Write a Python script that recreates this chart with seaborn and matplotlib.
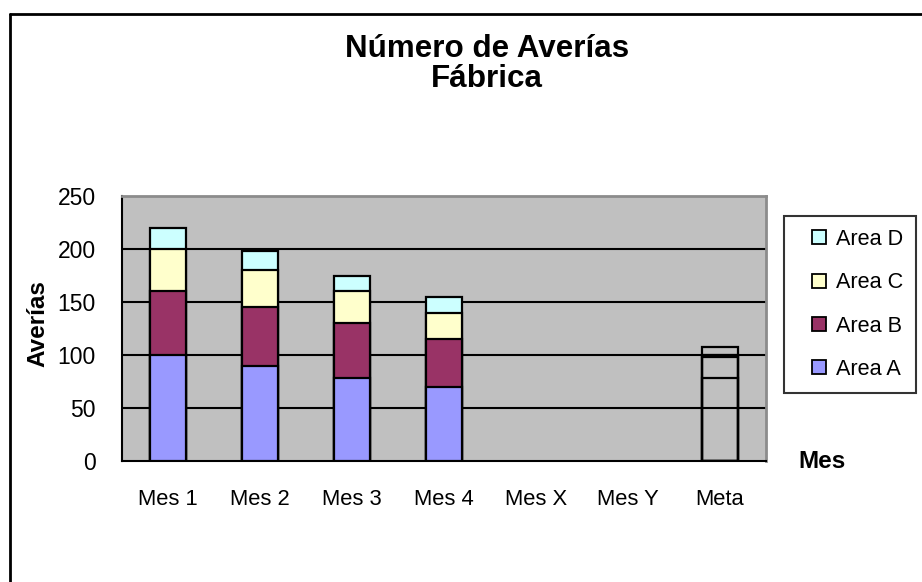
import numpy as np
import pandas as pd
import matplotlib
matplotlib.use("Agg")
import matplotlib.pyplot as plt
from matplotlib.lines import Line2D
import seaborn as sns

months = ["Mes 1", "Mes 2", "Mes 3", "Mes 4", "Mes X", "Mes Y", "Meta"]
area_a = [100, 90, 78, 70, np.nan, np.nan, 78]
area_b = [60, 55, 52, 45, np.nan, np.nan, 20]
area_c = [40, 35, 30, 25, np.nan, np.nan, 2]
area_d = [20, 18, 15, 15, np.nan, np.nan, 8]
series_names = ["Area A", "Area B", "Area C", "Area D"]
series_colors = ["#9999FF", "#993366", "#FFFFCC", "#CCFFFF"]
y_ticks = [0, 50, 100, 150, 200, 250]

sns.set_style("white")
plt.rcParams["font.family"] = ["Liberation Sans", "DejaVu Sans"]
plt.rcParams["text.color"] = "black"
plt.rcParams["axes.labelcolor"] = "black"
plt.rcParams["xtick.color"] = "black"
plt.rcParams["ytick.color"] = "black"

df = pd.DataFrame({"Mes": months, "Area A": area_a, "Area B": area_b,
                   "Area C": area_c, "Area D": area_d})
cum = df[series_names].cumsum(axis=1)
cum["Mes"] = df["Mes"]

fig = plt.figure(figsize=(9.22, 5.82), dpi=100)
ax = fig.add_axes([122/922, 1-461/582, 644/922, 265/582])
ax.set_facecolor("#C0C0C0")

# draw cumulative totals from tallest to shortest so they look stacked
for name, color in reversed(list(zip(series_names, series_colors))):
    n_before = len(ax.patches)
    sns.barplot(data=cum, x="Mes", y=name, order=months,
                color=color, width=0.4, edgecolor="black", linewidth=1.6,
                saturation=1, errorbar=None, ax=ax, zorder=3)
    for p in ax.patches[n_before:]:
        p.set_facecolor(color)
        cx = p.get_x() + p.get_width() / 2
        if abs(cx - months.index("Meta")) < 0.3:
            p.set_facecolor("none")

ax.set_xlim(-0.5, len(months) - 0.5)
ax.set_ylim(0, 250)
ax.set_yticks(y_ticks)
ax.set_xticks(range(len(months)))
ax.set_xticklabels(months)
ax.set_xticks(np.arange(-0.5, len(months)), minor=True)
ax.set_xlabel("")
ax.set_ylabel("")
for y in y_ticks[1:-1]:
    ax.axhline(y, color="black", lw=1.5, zorder=1)

ax.tick_params(axis="x", which="major", length=0, pad=20, labelsize=15.8, labelcolor="black")
ax.tick_params(axis="x", which="minor", length=7, width=1.2, direction="out", color="black")
ax.tick_params(axis="y", length=7, width=1.2, direction="out", pad=12, labelsize=16.5,
               colors="black")

for s in ["left", "bottom"]:
    ax.spines[s].set_color("black")
    ax.spines[s].set_linewidth(1.5)
for s in ["top", "right"]:
    ax.spines[s].set_color("#8c8c8c")
    ax.spines[s].set_linewidth(2)

fig.text(487/922, 1-57/582, "Número de Averías", ha="center", va="baseline",
         fontsize=22.6, fontweight="bold", color="black")
fig.text(487/922, 1-87/582, "Fábrica", ha="center", va="baseline",
         fontsize=22.6, fontweight="bold", color="black")
fig.text(38/922, 1-324/582, "Averías", rotation=90, ha="center", va="center",
         fontsize=17.5, fontweight="bold", color="black")
fig.text(822/922, 1-462/582, "Mes", ha="center", va="center",
         fontsize=17.5, fontweight="bold", color="black")

handles = [Line2D([], [], marker="s", linestyle="none", markersize=10,
                  markerfacecolor=c, markeredgecolor="black", markeredgewidth=1.3)
           for c in series_colors]
leg = fig.legend(handles[::-1], series_names[::-1], loc="upper left",
                 bbox_to_anchor=(784/922, 1-216/582), bbox_transform=fig.transFigure,
                 fontsize=15.6, frameon=True, fancybox=False, labelspacing=1.03,
                 handlelength=2.0, handletextpad=-0.2, borderpad=0.6, borderaxespad=0)
leg.get_frame().set_edgecolor("black")
leg.get_frame().set_linewidth(1.5)
for t in leg.get_texts():
    t.set_color("black")

fig.add_artist(Line2D([10/922, 10/922], [-0.05, 1-14/582], transform=fig.transFigure,
                      color="black", lw=2))
fig.add_artist(Line2D([10/922, 1.05], [1-14/582, 1-14/582], transform=fig.transFigure,
                      color="black", lw=2))

fig.savefig("out.png", dpi=100)
